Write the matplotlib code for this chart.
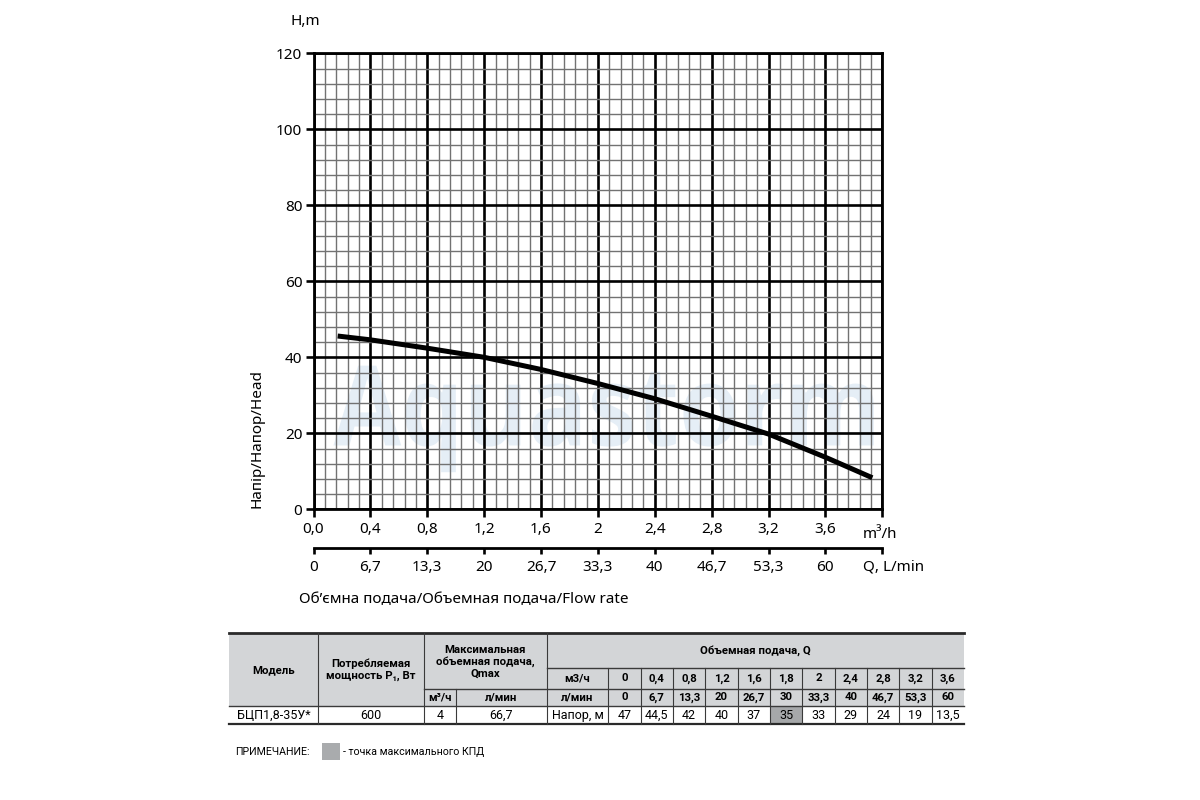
import numpy as np
import matplotlib
matplotlib.use('Agg')
import matplotlib.pyplot as plt
from matplotlib import font_manager
from matplotlib.patches import Rectangle, PathPatch
from matplotlib.lines import Line2D
from matplotlib.textpath import TextPath
from matplotlib.font_manager import FontProperties
from matplotlib.transforms import Affine2D

plt.rcParams['font.family'] = ['Noto Sans', 'DejaVu Sans']

# напорная характеристика
curve_q = [0.17, 0.4, 0.8, 1.2, 1.6, 2.0, 2.4, 2.8, 3.2, 3.6, 3.93]
curve_h = [45.6, 44.6, 42.4, 40.0, 36.8, 33.1, 29.1, 24.5, 19.8, 13.7, 8.3]

# оси
axis_q = [0.0, 0.4, 0.8, 1.2, 1.6, 2.0, 2.4, 2.8, 3.2, 3.6, 4.0]
axis_m3h_labels = ['0,0', '0,4', '0,8', '1,2', '1,6', '2', '2,4', '2,8', '3,2', '3,6', '']
axis_lmin_labels = ['0', '6,7', '13,3', '20', '26,7', '33,3', '40', '46,7', '53,3', '60', '']
h_ticks = [0, 20, 40, 60, 80, 100, 120]

# таблица
model = 'БЦП1,8-35У*'
power = '600'
qmax_m3h = '4'
qmax_lmin = '66,7'
tab_q_m3h = ['0', '0,4', '0,8', '1,2', '1,6', '1,8', '2', '2,4', '2,8', '3,2', '3,6']
tab_q_lmin = ['0', '6,7', '13,3', '20', '26,7', '30', '33,3', '40', '46,7', '53,3', '60']
tab_head = ['47', '44,5', '42', '40', '37', '35', '33', '29', '24', '19', '13,5']
best = 5  # точка максимального КПД

W, H = 1200, 800
def fx(x):
    return x / W
def fy(y):
    return 1 - y / H

names = {f.name for f in font_manager.fontManager.ttflist}
narrow = 'Liberation Sans Narrow' if 'Liberation Sans Narrow' in names else 'Roboto'
tfont = [narrow, 'Noto Sans', 'DejaVu Sans']

fig = plt.figure(figsize=(12, 8), dpi=100)
ax = fig.add_axes([fx(313.5), fy(509.3), (882.3 - 313.5) / W, (509.3 - 53.3) / H])

ax.set_xlim(0, 4.0)
ax.set_ylim(0, 120)

# водяной знак
fp = FontProperties(family='Open Sans', weight='bold')
tp = TextPath((0, 0), 'Aquastorm', size=1, prop=fp)
ext = tp.get_extents()
cap = TextPath((0, 0), 'A', size=1, prop=fp).get_extents().y1
sx = (3.94 - 0.14) / (ext.x1 - ext.x0)
sy = 21.0 / cap
tr = Affine2D().translate(-ext.x0, 0).scale(sx, sy).translate(0.14, 16.8) + ax.transData
ax.add_patch(PathPatch(tp, transform=tr, fc='#e5eef6', ec='none', zorder=0.2))

ax.plot(curve_q, curve_h, color='black', lw=3.6, solid_capstyle='butt', zorder=3)

ax.set_xticks(axis_q)
ax.set_xticklabels(axis_m3h_labels)
ax.set_xticks(np.arange(0, 4.0001, 0.08), minor=True)
ax.set_yticks(h_ticks)
ax.set_yticks(np.arange(0, 121, 4), minor=True)
ax.set_axisbelow(True)
ax.grid(which='major', color='black', lw=1.9)
ax.grid(which='minor', color='#727272', lw=1.0)
ax.tick_params(which='major', direction='out', length=5.5, width=1.9, labelsize=11)
ax.tick_params(axis='x', pad=3.5)
ax.tick_params(axis='y', pad=2.5)
ax.tick_params(which='minor', length=0)
for s in ax.spines.values():
    s.set_linewidth(2)

sec = ax.secondary_xaxis(-39 / 456)
sec.set_xticks(axis_q)
sec.set_xticklabels(axis_lmin_labels)
sec.tick_params(direction='out', length=4.5, width=1.9, labelsize=11, pad=4)
sec.spines['bottom'].set_linewidth(2)

fig.text(fx(290.7), fy(21.7), 'H,m', ha='left', va='center', fontsize=11)
fig.text(fx(256.7), fy(438), 'Напір/Напор/Head', rotation=90, ha='center', va='center', fontsize=11)
fig.text(fx(863), fy(534), 'm³/h', ha='left', va='center', fontsize=11)
fig.text(fx(863), fy(567), 'Q, L/min', ha='left', va='center', fontsize=11)
fig.text(fx(299), fy(600), 'Об’ємна подача/Объемная подача/Flow rate', ha='left', va='center', fontsize=11)

# ---- таблица ----
def rect(x0, y0, x1, y1, color):
    fig.add_artist(Rectangle((fx(x0), fy(y1)), (x1 - x0) / W, (y1 - y0) / H,
                             transform=fig.transFigure, fc=color, ec='none'))

def line(x0, y0, x1, y1, lw=0.8, color='#3a3a3a'):
    fig.add_artist(Line2D([fx(x0), fx(x1)], [fy(y0), fy(y1)], transform=fig.transFigure,
                          color=color, lw=lw))

def txt(x, y, s, bold=False, size=8.2):
    fig.text(fx(x), fy(y), s, ha='center', va='center', fontsize=size,
             fontweight='bold' if bold else 'normal', family=tfont, linespacing=1.2)

t_left, t_right = 229, 964
r0, r1, r2, r3, r4 = 633.3, 667.7, 689, 706, 724.3
c_model, c_pow, c_qmax, c_qm3, c_q = 317.7, 424, 455.7, 546.7, 608.3
cw = (t_right - c_q) / len(tab_head)
cols = [c_q + i * cw for i in range(len(tab_head) + 1)]

rect(t_left, r0, t_right, r3, '#d3d5d7')
rect(cols[best], r3, cols[best + 1], r4, '#a6a8aa')

line(t_left, r0, t_right, r0, lw=2.0, color='#2a2a2a')
line(t_left, r4, t_right, r4, lw=1.6, color='#2a2a2a')
line(t_left, r3, t_right, r3, lw=1.0)
line(c_pow, r2, t_right, r2, lw=1.0)
line(c_qm3, r1, t_right, r1, lw=1.0)
for x in [c_model, c_pow, c_qm3]:
    line(x, r0, x, r4)
line(c_qmax, r2, c_qmax, r4)
for x in cols[:-1]:
    line(x, r1, x, r4)

txt((t_left + c_model) / 2, 670, 'Модель', bold=True)
txt((c_model + c_pow) / 2, 670, 'Потребляемая\nмощность P₁, Вт', bold=True)
txt((c_pow + c_qm3) / 2, 662, 'Максимальная\nобъемная подача,\nQmax', bold=True)
txt((c_pow + c_qmax) / 2, (r2 + r3) / 2, 'м³/ч', bold=True)
txt((c_qmax + c_qm3) / 2, (r2 + r3) / 2, 'л/мин', bold=True)
txt((c_qm3 + t_right) / 2, (r0 + r1) / 2, 'Объемная подача, Q', bold=True)
txt((c_qm3 + c_q) / 2, (r1 + r2) / 2, 'м3/ч', bold=True)
txt((c_qm3 + c_q) / 2, (r2 + r3) / 2, 'л/мин', bold=True)
for i in range(len(tab_head)):
    xc = (cols[i] + cols[i + 1]) / 2
    txt(xc, (r1 + r2) / 2, tab_q_m3h[i], bold=True)
    txt(xc, (r2 + r3) / 2, tab_q_lmin[i], bold=True)
    txt(xc, (r3 + r4) / 2, tab_head[i], size=9)

txt((t_left + c_model) / 2, (r3 + r4) / 2, model, size=9)
txt((c_model + c_pow) / 2, (r3 + r4) / 2, power, size=9)
txt((c_pow + c_qmax) / 2, (r3 + r4) / 2, qmax_m3h, size=9)
txt((c_qmax + c_qm3) / 2, (r3 + r4) / 2, qmax_lmin, size=9)
txt((c_qm3 + c_q) / 2, (r3 + r4) / 2, 'Напор, м', size=9)

# примечание
fig.text(fx(235), fy(751.7), 'ПРИМЕЧАНИЕ:', ha='left', va='center', fontsize=7.7, family=tfont)
rect(321.7, 743, 340, 760, '#a9abad')
fig.text(fx(343.3), fy(751.7), '- точка максимального КПД', ha='left', va='center', fontsize=7.7, family=tfont)

fig.savefig('out.png', dpi=100)
